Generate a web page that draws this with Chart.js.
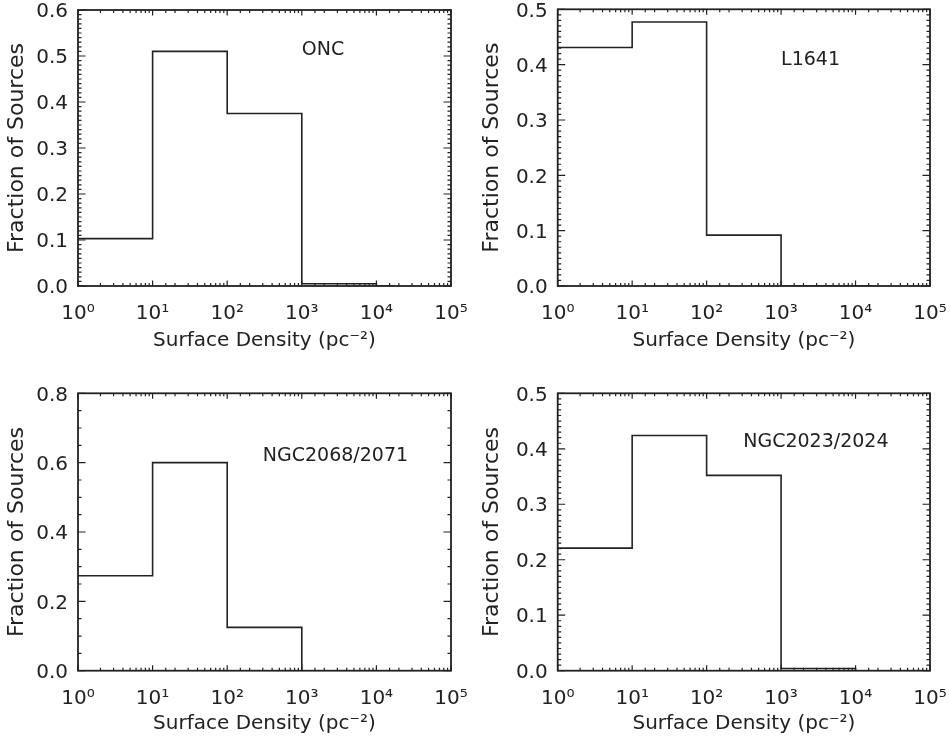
<!DOCTYPE html>
<html>
<head>
<meta charset="utf-8">
<title>Fraction of sources vs surface density</title>
<script src="https://cdn.jsdelivr.net/npm/chart.js@4.4.1/dist/chart.umd.min.js"></script>
<style>
  html, body { margin: 0; padding: 0; background: #fff; }
  #wrap { position: relative; width: 950px; height: 740px; overflow: hidden; }
  .cell { position: absolute; width: 475px; height: 370px; }
</style>
</head>
<body>
<div id="wrap">
  <div class="cell" style="left:0;top:0"><canvas id="c0" width="475" height="370"></canvas></div>
  <div class="cell" style="left:475px;top:0"><canvas id="c1" width="475" height="370"></canvas></div>
  <div class="cell" style="left:0;top:370px"><canvas id="c2" width="475" height="370"></canvas></div>
  <div class="cell" style="left:475px;top:370px"><canvas id="c3" width="475" height="370"></canvas></div>
</div>
<script>
// bin edges in pc^-2 (last one is the short tail drawn at zero)
const binEdges = [1, 10, 100, 1000, 10000, 18000];

// fraction of sources per bin, one array per region
const oncFraction     = [0.103, 0.510, 0.375, 0.005, 0, 0];
const l1641Fraction   = [0.431, 0.477, 0.092, 0, 0, 0];
const ngc2068Fraction = [0.274, 0.600, 0.125, 0, 0, 0];
const ngc2023Fraction = [0.221, 0.424, 0.352, 0.004, 0, 0];

const regionNames = ['ONC', 'L1641', 'NGC2068/2071', 'NGC2023/2024'];
const xTickLabels = ['10⁰', '10¹', '10²', '10³', '10⁴', '10⁵'];
const yMax = [0.6, 0.5, 0.8, 0.5];
const yMajorStep = [0.1, 0.1, 0.2, 0.1];
const yMinorStep = [0.01, 0.01, 0.05, 0.01];

const ink = '#222';
Chart.defaults.font.family = '"DejaVu Sans", sans-serif';
Chart.defaults.color = ink;

// plot box of each panel inside its 475x370 canvas, and where the name goes (data coords)
const panels = [
  { id: 'c0', values: oncFraction,     left: 78,   right: 451, top: 10,   bottom: 286,   axisBottom: 353, nameAt: [1000, 0.513] },
  { id: 'c1', values: l1641Fraction,   left: 82.7, right: 455, top: 9.3,  bottom: 286,   axisBottom: 353, nameAt: [1000, 0.408] },
  { id: 'c2', values: ngc2068Fraction, left: 78,   right: 451, top: 23.3, bottom: 300.7, axisBottom: 366, nameAt: [300, 0.619] },
  { id: 'c3', values: ngc2023Fraction, left: 82.7, right: 455, top: 23.3, bottom: 300.7, axisBottom: 366, nameAt: [310, 0.413] }
];

function isDecade(v) {
  const l = Math.log10(v);
  return Math.abs(l - Math.round(l)) < 1e-9;
}
function onStep(v, step) {
  const r = v / step;
  return Math.abs(r - Math.round(r)) < 1e-6;
}

// IDL style box: frame plus inward ticks on all four sides, and the region name
const frameTicks = {
  id: 'frameTicks',
  afterDatasetsDraw(chart, args, opts) {
    const { ctx, chartArea: a, scales: { x, y } } = chart;
    ctx.save();
    ctx.strokeStyle = ink;
    ctx.lineWidth = 1.8;
    ctx.strokeRect(a.left, a.top, a.right - a.left, a.bottom - a.top);
    ctx.beginPath();
    x.ticks.forEach(t => {
      const px = x.getPixelForValue(t.value);
      const len = isDecade(t.value) ? 5.5 : 3;
      ctx.moveTo(px, a.bottom); ctx.lineTo(px, a.bottom - len);
      ctx.moveTo(px, a.top); ctx.lineTo(px, a.top + len);
    });
    y.ticks.forEach(t => {
      const py = y.getPixelForValue(t.value);
      const len = onStep(t.value, opts.major) ? 7.5 : 3.5;
      ctx.moveTo(a.left, py); ctx.lineTo(a.left + len, py);
      ctx.moveTo(a.right, py); ctx.lineTo(a.right - len, py);
    });
    ctx.lineWidth = 1.2;
    ctx.stroke();
    ctx.fillStyle = ink;
    ctx.font = '19px "DejaVu Sans"';
    ctx.textAlign = 'left';
    ctx.textBaseline = 'middle';
    ctx.fillText(opts.text, x.getPixelForValue(opts.at[0]), y.getPixelForValue(opts.at[1]));
    ctx.restore();
  }
};

panels.forEach((p, i) => {
  new Chart(document.getElementById(p.id), {
    type: 'line',
    data: {
      datasets: [{
        data: binEdges.map((e, k) => ({ x: e, y: p.values[k] })),
        stepped: 'before',
        borderColor: ink,
        borderWidth: 1.6,
        pointRadius: 0,
        fill: false
      }]
    },
    options: {
      responsive: false,
      animation: false,
      layout: { padding: { left: 0, top: p.top, right: 475 - p.right, bottom: 370 - p.axisBottom } },
      plugins: {
        legend: { display: false },
        tooltip: { enabled: false },
        frameTicks: { text: regionNames[i], at: p.nameAt, major: yMajorStep[i] }
      },
      scales: {
        x: {
          type: 'logarithmic',
          min: 1,
          max: 100000,
          grid: { display: false, drawTicks: false, tickLength: 0 },
          border: { display: false },
          ticks: {
            autoSkip: false,
            maxRotation: 0,
            padding: 16,
            font: { size: 20 },
            callback: v => isDecade(v) ? xTickLabels[Math.round(Math.log10(v))] : ''
          },
          title: {
            display: true,
            text: 'Surface Density (pc⁻²)',
            font: { size: 20 },
            padding: { top: 0, bottom: 0 }
          },
          afterFit: s => { s.height = p.axisBottom - p.bottom; s.paddingLeft = 0; s.paddingRight = 0; }
        },
        y: {
          min: 0,
          max: yMax[i],
          grid: { display: false, drawTicks: false, tickLength: 0 },
          border: { display: false },
          ticks: {
            stepSize: yMinorStep[i],
            autoSkip: false,
            padding: 10,
            labelOffset: 2,
            font: { size: 20 },
            callback: v => onStep(v, yMajorStep[i]) ? v.toFixed(1) : ''
          },
          title: {
            display: true,
            text: 'Fraction of Sources',
            font: { size: 22 },
            padding: { top: 4, bottom: 0 }
          },
          afterFit: s => { s.width = p.left; s.paddingTop = 0; s.paddingBottom = 0; }
        }
      }
    },
    plugins: [frameTicks]
  });
});
</script>
</body>
</html>
